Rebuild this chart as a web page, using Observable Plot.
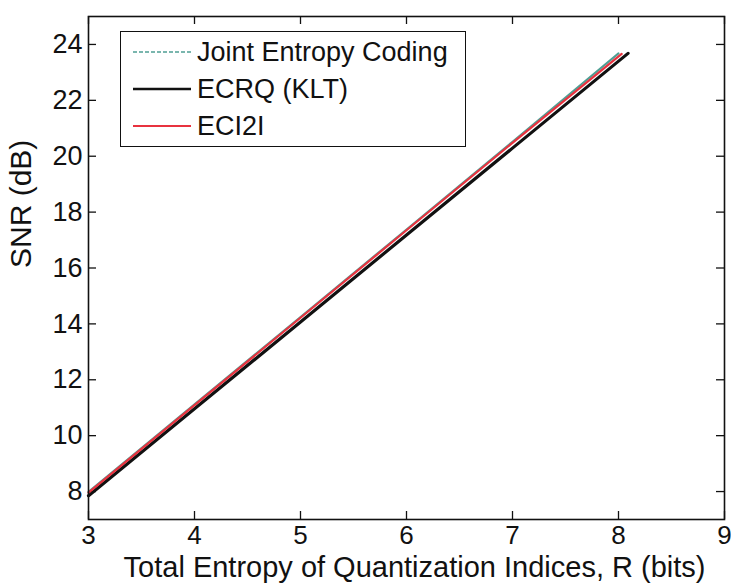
<!DOCTYPE html>
<html>
<head>
<meta charset="utf-8">
<script src="https://cdn.jsdelivr.net/npm/d3@7"></script>
<script src="https://cdn.jsdelivr.net/npm/@observablehq/plot@0.6"></script>
<style>
  html, body { margin: 0; padding: 0; background: #fff; }
  #chart { position: relative; width: 731px; height: 585px; }
  #legend {
    position: absolute; left: 120px; top: 31px; width: 346px; height: 116px;
    border: 1.5px solid #111; background: #fff; box-sizing: border-box;
    font-family: "Liberation Sans", Arial, sans-serif; font-size: 27px; color: #111;
  }
  .row { position: absolute; left: 0; height: 32px; display: flex; align-items: center; white-space: nowrap; }
  .sw { margin-left: 12px; margin-right: 6px; display: block; }
</style>
</head>
<body>
<div id="chart"></div>
<script>
// Data
const seriesNames = ["Joint Entropy Coding", "ECRQ (KLT)", "ECI2I"];
const seriesColors = ["#4f9f94", "#111111", "#e8323f"];
const jointR = [3.0, 4.0, 5.0, 6.0, 7.0, 8.0];
const jointSNR = [7.99, 11.12, 14.25, 17.38, 20.52, 23.68];
const ecrqR = [3.0, 4.0, 5.0, 6.0, 7.0, 8.09];
const ecrqSNR = [7.85, 10.96, 14.07, 17.18, 20.29, 23.68];
const eci2iR = [3.0, 4.0, 5.0, 6.0, 7.0, 8.03];
const eci2iSNR = [7.96, 11.09, 14.22, 17.35, 20.48, 23.66];
const xTicks = [3, 4, 5, 6, 7, 8, 9];
const yTicks = [8, 10, 12, 14, 16, 18, 20, 22, 24];

const toRows = (xs, ys, s) => xs.map((x, i) => ({R: x, SNR: ys[i], series: s}));
const joint = toRows(jointR, jointSNR, seriesNames[0]);
const ecrq = toRows(ecrqR, ecrqSNR, seriesNames[1]);
const eci2i = toRows(eci2iR, eci2iSNR, seriesNames[2]);

const W = 731, H = 585;
const mL = 88, mR = 7, mT = 16, mB = 66;
const fw = W - mL - mR, fh = H - mT - mB;
const font = "Liberation Sans, Arial, sans-serif";

const plot = Plot.plot({
  width: W, height: H,
  marginLeft: mL, marginRight: mR, marginTop: mT, marginBottom: mB,
  style: {fontFamily: font, fontSize: "25px", color: "#111", background: "#fff", overflow: "visible"},
  x: {domain: [3, 9]},
  y: {domain: [7, 25]},
  marks: [
    Plot.tickX(xTicks, {x: d => d, insetTop: fh - 8, stroke: "#111", strokeWidth: 1.3}),
    Plot.tickX(xTicks, {x: d => d, insetBottom: fh - 8, stroke: "#111", strokeWidth: 1.3}),
    Plot.tickY(yTicks, {y: d => d, insetRight: fw - 8, stroke: "#111", strokeWidth: 1.3}),
    Plot.tickY(yTicks, {y: d => d, insetLeft: fw - 8, stroke: "#111", strokeWidth: 1.3}),
    Plot.axisX(xTicks, {tickSize: 0, tickPadding: 6, label: null, fontSize: 26}),
    Plot.axisY(yTicks, {tickSize: 0, tickPadding: 6, label: null, fontSize: 27}),
    Plot.line(ecrq, {x: "R", y: "SNR", stroke: seriesColors[1], strokeWidth: 3.2}),
    Plot.line(joint, {x: "R", y: "SNR", stroke: seriesColors[0], strokeWidth: 2}),
    Plot.line(eci2i, {x: "R", y: "SNR", stroke: seriesColors[2], strokeWidth: 2.2}),
    Plot.frame({stroke: "#111", strokeWidth: 1.6}),
    Plot.text(["Total Entropy of Quantization Indices, R (bits)"], {
      frameAnchor: "bottom", dx: 8, dy: 57, text: d => d, fontSize: 29, fill: "#111"
    }),
    Plot.text(["SNR (dB)"], {
      frameAnchor: "left", dx: -67, rotate: -90, text: d => d, fontSize: 30, fill: "#111"
    })
  ]
});
document.getElementById("chart").appendChild(plot);

// Legend (HTML overlay with SVG swatches)
const legend = document.createElement("div");
legend.id = "legend";
const dashes = ["4,2", null, null];
const widths = [1.6, 2.6, 1.8];
const rowTops = [4, 41, 78];
const NS = "http://www.w3.org/2000/svg";
seriesNames.forEach((name, i) => {
  const row = document.createElement("div");
  row.className = "row";
  row.style.top = rowTops[i] + "px";
  const svg = document.createElementNS(NS, "svg");
  svg.setAttribute("width", 58); svg.setAttribute("height", 10);
  svg.setAttribute("class", "sw");
  const ln = document.createElementNS(NS, "line");
  ln.setAttribute("x1", 0); ln.setAttribute("x2", 58);
  ln.setAttribute("y1", 5); ln.setAttribute("y2", 5);
  ln.setAttribute("stroke", seriesColors[i]);
  ln.setAttribute("stroke-width", widths[i]);
  if (dashes[i]) ln.setAttribute("stroke-dasharray", dashes[i]);
  svg.appendChild(ln);
  const t = document.createElement("span");
  t.textContent = name;
  row.appendChild(svg); row.appendChild(t);
  legend.appendChild(row);
});
document.getElementById("chart").appendChild(legend);
</script>
</body>
</html>
